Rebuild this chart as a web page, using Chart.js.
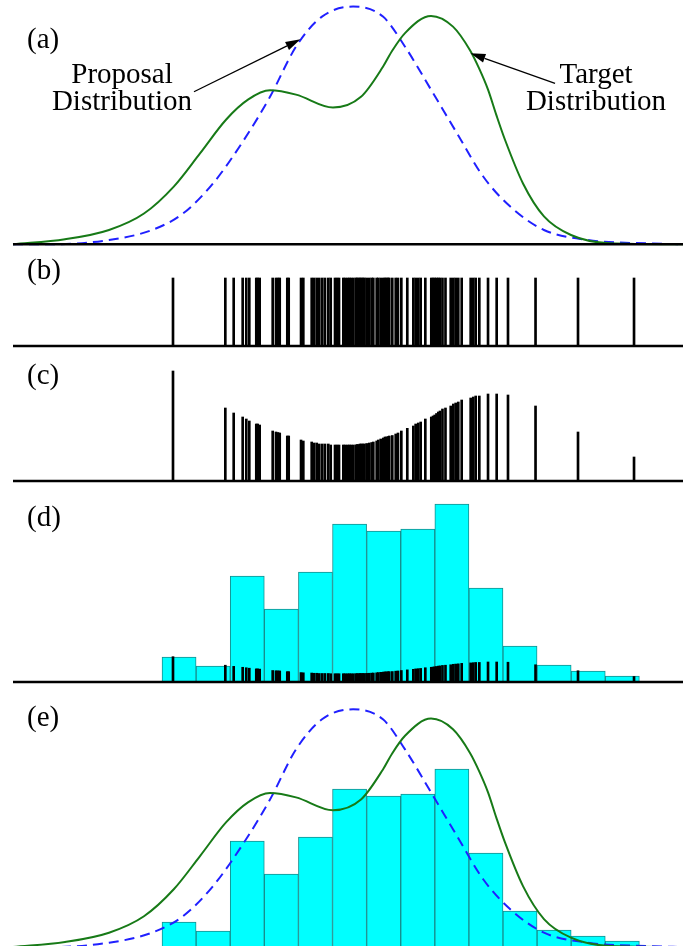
<!DOCTYPE html>
<html>
<head>
<meta charset="utf-8">
<script src="https://cdn.jsdelivr.net/npm/chart.js@4.4.1/dist/chart.umd.min.js"></script>
<style>
  body { margin: 0; background: #fff; }
  #fig { position: relative; width: 683px; height: 946px; overflow: hidden; }
  #fig canvas { position: absolute; left: 0; }
  .lbl { position: absolute; font-family: "Liberation Serif", "Times New Roman", serif; font-size: 29px; line-height: 1; color: #000; white-space: nowrap; }
  .note { position: absolute; width: 200px; text-align: center; font-family: "Liberation Serif", "Times New Roman", serif; font-size: 29px; line-height: 27px; color: #000; }
</style>
</head>
<body>
<div id="fig">
  <canvas id="pa" width="683" height="250" style="top:0px"></canvas>
  <canvas id="pb" width="683" height="102" style="top:250px"></canvas>
  <canvas id="pc" width="683" height="136" style="top:352px"></canvas>
  <canvas id="pd" width="683" height="202" style="top:488px"></canvas>
  <canvas id="pe" width="683" height="256" style="top:690px"></canvas>

  <div class="lbl" style="left:27px;top:24px">(a)</div>
  <div class="lbl" style="left:27px;top:255px">(b)</div>
  <div class="lbl" style="left:27px;top:360px">(c)</div>
  <div class="lbl" style="left:27px;top:502px">(d)</div>
  <div class="lbl" style="left:27px;top:702px">(e)</div>
  <div class="note" style="left:22px;top:60px">Proposal<br>Distribution</div>
  <div class="note" style="left:496px;top:60px">Target<br>Distribution</div>
</div>
<script>
// x in plot units: 0 = left end of the axis line, 10 = right end

// target density (green)
const targetX = [0, 0.776, 1.433, 1.955, 2.403, 2.791, 3.179, 3.507, 3.836, 4.224, 4.776,
  5.194, 5.522, 5.657, 5.851, 6.239, 6.567, 6.821, 6.955, 7.090, 7.216, 7.343, 7.612, 7.925, 8.328, 8.910, 10];
const targetY = [0, 0.007, 0.020, 0.043, 0.081, 0.127, 0.174, 0.202, 0.215, 0.209, 0.191,
  0.206, 0.248, 0.270, 0.295, 0.319, 0.304, 0.271, 0.246, 0.216, 0.180, 0.146, 0.085, 0.039, 0.013, 0.0014, 0];

// proposal density (blue dashed)
const proposalX = [0, 0.582, 1.433, 2.075, 2.537, 2.985, 3.448, 3.836, 4.224, 4.612, 5.075,
  5.522, 5.851, 6.239, 6.627, 7.015, 7.418, 7.925, 8.582, 9.552, 10];
const proposalY = [0, 0, 0.006, 0.020, 0.043, 0.085, 0.146, 0.206, 0.276, 0.318, 0.332,
  0.318, 0.276, 0.216, 0.155, 0.095, 0.053, 0.020, 0.006, 0.001, 0];

// samples drawn from the proposal and their importance weights
const sampleX = [2.388, 3.169, 3.294, 3.428, 3.482, 3.527, 3.631, 3.652, 3.682, 3.876,
  3.925, 3.955, 3.981, 4.094, 4.115, 4.299, 4.333, 4.458, 4.493, 4.533,
  4.572, 4.616, 4.657, 4.706, 4.742, 4.806, 4.836, 4.866, 4.930, 4.955,
  4.990, 5.019, 5.045, 5.079, 5.115, 5.134, 5.157, 5.179, 5.201, 5.224,
  5.246, 5.279, 5.318, 5.354, 5.378, 5.428, 5.452, 5.488, 5.527, 5.552,
  5.575, 5.597, 5.616, 5.661, 5.712, 5.746, 5.796, 5.885, 5.975, 6.010,
  6.049, 6.085, 6.154, 6.243, 6.269, 6.294, 6.321, 6.348, 6.373, 6.410,
  6.455, 6.533, 6.572, 6.607, 6.646, 6.697, 6.831, 6.870, 6.906, 6.960,
  7.090, 7.219, 7.388, 7.799, 8.433, 9.269];
const sampleW = [1.10, 0.73, 0.68, 0.64, 0.62, 0.60, 0.57, 0.57, 0.56, 0.50,
  0.49, 0.485, 0.48, 0.45, 0.45, 0.41, 0.40, 0.39, 0.38, 0.38,
  0.37, 0.37, 0.37, 0.37, 0.36, 0.36, 0.36, 0.36, 0.36, 0.36,
  0.36, 0.36, 0.36, 0.36, 0.36, 0.365, 0.365, 0.37, 0.37, 0.37,
  0.37, 0.375, 0.38, 0.385, 0.39, 0.40, 0.41, 0.42, 0.43, 0.44,
  0.44, 0.445, 0.45, 0.455, 0.47, 0.48, 0.50, 0.527, 0.55, 0.57,
  0.58, 0.59, 0.62, 0.64, 0.65, 0.66, 0.675, 0.69, 0.70, 0.72,
  0.73, 0.75, 0.77, 0.78, 0.79, 0.81, 0.83, 0.84, 0.85, 0.85,
  0.87, 0.87, 0.86, 0.75, 0.49, 0.24];

// weighted histogram
const binEdges = [2.224, 2.733, 3.242, 3.751, 4.260, 4.769, 5.278, 5.787, 6.296,
  6.805, 7.313, 7.822, 8.331, 8.840, 9.349];
const binHeights = [2.5, 1.6, 10.6, 7.3, 11.0, 15.8, 15.1, 15.3, 17.8, 9.4, 3.6, 1.7, 1.1, 0.6];

// arrows of panel (a), tail -> head
const arrows = [
  { from: [2.701, 0.2131], to: [4.291, 0.2863] },
  { from: [8.090, 0.2249], to: [6.827, 0.2668] }
];

const XMIN = -13 / 67, XMAX = 10;
const GREEN = '#177a17', BLUE = '#2020ff';

// y range so that value 0 sits on the baseline row of the figure
function yRange(top, height, base, pxPerUnit) {
  return { min: -(top + height - base) / pxPerUnit, max: (base - top) / pxPerUnit };
}

function xAxis() {
  return {
    type: 'linear', display: false, min: XMIN, max: XMAX, offset: false,
    afterBuildTicks: s => { s.ticks = [{ value: XMIN }, { value: XMAX }]; }
  };
}
function yAxis(r) {
  return { type: 'linear', display: false, min: r.min, max: r.max };
}

const pts = (xs, ys) => xs.map((x, i) => ({ x, y: ys[i] }));
const binCenters = binHeights.map((_, i) => (binEdges[i] + binEdges[i + 1]) / 2);

const axisLine = (xID, yID) => ({
  type: 'line', data: [{ x: 0, y: 0 }, { x: 10, y: 0 }], xAxisID: xID, yAxisID: yID,
  borderColor: '#000', borderWidth: 2.5, pointRadius: 0
});
const curve = (xs, ys, color, dash) => ({
  type: 'line', data: pts(xs, ys), xAxisID: 'x', yAxisID: 'y',
  borderColor: color, borderWidth: 2, borderDash: dash, pointRadius: 0,
  tension: 0.4, cubicInterpolationMode: 'monotone'
});
const spikes = (ys, xID, yID) => ({
  type: 'bar', data: pts(sampleX, ys), xAxisID: xID, yAxisID: yID,
  backgroundColor: '#000', barThickness: 2, grouped: false
});
const hist = () => ({
  type: 'bar', data: pts(binCenters, binHeights), xAxisID: 'xh', yAxisID: 'yh',
  backgroundColor: '#00ffff', borderColor: '#178e8e', borderWidth: 1,
  barPercentage: 1, categoryPercentage: 1, grouped: false
});

const arrowPlugin = {
  id: 'arrows',
  afterDatasetsDraw(chart) {
    const { ctx } = chart;
    const x = chart.scales.x, y = chart.scales.y;
    ctx.save();
    ctx.strokeStyle = '#000';
    ctx.fillStyle = '#000';
    ctx.lineWidth = 1.3;
    arrows.forEach(a => {
      const x1 = x.getPixelForValue(a.from[0]), y1 = y.getPixelForValue(a.from[1]);
      const x2 = x.getPixelForValue(a.to[0]), y2 = y.getPixelForValue(a.to[1]);
      const ang = Math.atan2(y2 - y1, x2 - x1);
      const len = 15, hw = 4.5;
      const bx = x2 - len * Math.cos(ang), by = y2 - len * Math.sin(ang);
      ctx.beginPath();
      ctx.moveTo(x1, y1);
      ctx.lineTo(bx, by);
      ctx.stroke();
      ctx.beginPath();
      ctx.moveTo(x2, y2);
      ctx.lineTo(bx - hw * Math.sin(ang), by + hw * Math.cos(ang));
      ctx.lineTo(bx + hw * Math.sin(ang), by - hw * Math.cos(ang));
      ctx.closePath();
      ctx.fill();
    });
    ctx.restore();
  }
};

function makeChart(id, datasets, scales, plugins) {
  return new Chart(document.getElementById(id), {
    type: 'line',
    data: { datasets },
    options: {
      responsive: false, animation: false, devicePixelRatio: 1, events: [],
      layout: { padding: 0 },
      plugins: { legend: { display: false }, tooltip: { enabled: false } },
      scales
    },
    plugins: plugins || []
  });
}

// (a) target and proposal densities
makeChart('pa', [
  axisLine('x', 'y'),
  curve(targetX, targetY, GREEN, []),
  curve(proposalX, proposalY, BLUE, [10, 6])
], { x: xAxis(), y: yAxis(yRange(0, 250, 244.3, 716)) }, [arrowPlugin]);

// (b) samples
makeChart('pb', [
  axisLine('x', 'y'),
  spikes(sampleX.map(() => 1), 'x', 'y')
], { x: xAxis(), y: yAxis(yRange(250, 102, 346, 68)) });

// (c) weighted samples
makeChart('pc', [
  axisLine('x', 'y'),
  spikes(sampleW, 'x', 'y')
], { x: xAxis(), y: yAxis(yRange(352, 136, 481, 100)) });

// (d) weighted histogram with the weights
makeChart('pd', [
  axisLine('xs', 'ys'),
  spikes(sampleW, 'xs', 'ys'),
  hist()
], {
  xs: xAxis(), xh: xAxis(),
  ys: yAxis(yRange(488, 202, 682, 23)),
  yh: yAxis(yRange(488, 202, 682, 10))
});

// (e) histogram against both densities
makeChart('pe', [
  curve(targetX, targetY, GREEN, []),
  curve(proposalX, proposalY, BLUE, [10, 6]),
  hist()
], {
  x: xAxis(), xh: xAxis(),
  y: yAxis(yRange(690, 256, 947, 716)),
  yh: yAxis(yRange(690, 256, 947, 10))
});
</script>
</body>
</html>
